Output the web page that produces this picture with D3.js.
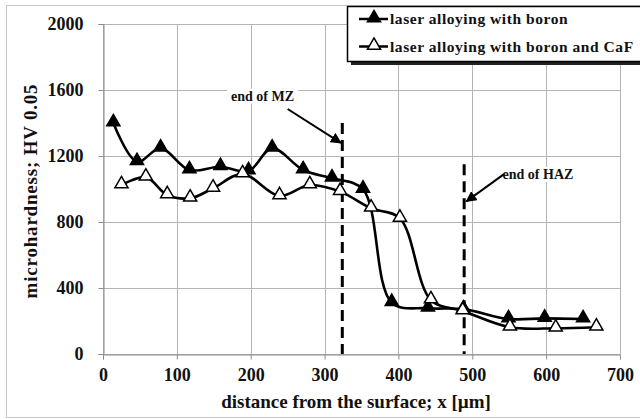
<!DOCTYPE html>
<html>
<head>
<meta charset="utf-8">
<script src="https://cdn.jsdelivr.net/npm/d3@7"></script>
<style>
  body { margin: 0; background: #fff; }
  svg text { font-family: "Liberation Serif", "Times New Roman", serif; font-weight: bold; fill: #111; }
</style>
</head>
<body>
<svg id="chart" width="640" height="419"></svg>
<script>
// values
const boronX = [14, 46, 78, 117, 159, 197, 229, 271, 310, 352, 391, 440, 488, 549, 598, 650];
const boronHV = [1400, 1165, 1247, 1115, 1135, 1109, 1247, 1115, 1065, 998, 311, 277, 272, 212, 216, 212];
const cafX = [25, 58, 87, 118, 149, 189, 239, 280, 321, 363, 402, 444, 487, 551, 613, 668];
const cafHV = [1024, 1071, 964, 944, 1004, 1091, 958, 1024, 984, 883, 822, 327, 261, 162, 156, 162];

const xTicks = [0, 100, 200, 300, 400, 500, 600, 700];
const yTicks = [0, 400, 800, 1200, 1600, 2000];

const seriesNames = ["laser alloying with boron", "laser alloying with boron and CaF"];

// zone boundaries (x in µm, top of dashed line in HV)
const zoneX = [324, 489];
const zoneTop = [1400, 1150];
const zoneLabels = ["end of MZ", "end of HAZ"];

const W = 640, H = 419;
const margin = {top: 24, right: 20, bottom: 65, left: 103};

const svg = d3.select("#chart");

// outer frame
svg.append("rect")
    .attr("x", 6.5).attr("y", 5.5)
    .attr("width", 640).attr("height", 412)
    .attr("fill", "#fff").attr("stroke", "#c8c8c8");

const x = d3.scaleLinear().domain([0, 700]).range([margin.left, W - margin.right]);
const y = d3.scaleLinear().domain([0, 2000]).range([H - margin.bottom, margin.top]);

// grid
const grid = svg.append("g").attr("stroke", "#b4b4b4").attr("stroke-width", 1);
grid.selectAll(".gx").data(xTicks).join("line")
    .attr("x1", d => Math.round(x(d)) + 0.5).attr("x2", d => Math.round(x(d)) + 0.5)
    .attr("y1", y(0)).attr("y2", y(2000));
grid.selectAll(".gy").data(yTicks).join("line")
    .attr("x1", x(0)).attr("x2", x(700))
    .attr("y1", d => Math.round(y(d)) + 0.5).attr("y2", d => Math.round(y(d)) + 0.5);

// axes
const xAxis = svg.append("g")
    .attr("transform", "translate(0," + (Math.round(y(0)) + 0.5) + ")")
    .call(d3.axisBottom(x).tickValues(xTicks).tickFormat(d3.format("d")).tickSize(5).tickPadding(9));
const yAxis = svg.append("g")
    .attr("transform", "translate(" + (Math.round(x(0)) + 0.5) + ",0)")
    .call(d3.axisLeft(y).tickValues(yTicks).tickFormat(d3.format("d")).tickSize(5).tickPadding(15));
[xAxis, yAxis].forEach(a => {
    a.select(".domain").attr("stroke", "#8c8c8c");
    a.selectAll(".tick line").attr("stroke", "#8c8c8c");
    a.selectAll("text").attr("font-size", 18).attr("fill", "#111");
});

svg.append("text")
    .attr("x", 356).attr("y", 408)
    .attr("text-anchor", "middle").attr("font-size", 19)
    .text("distance from the surface; x [µm]");
svg.append("text")
    .attr("transform", "translate(37," + 191 + ") rotate(-90)")
    .attr("text-anchor", "middle").attr("font-size", 19).attr("letter-spacing", 0.8)
    .text("microhardness; HV 0.05");

// zone annotations
svg.append("defs").append("marker")
    .attr("id", "arrow").attr("viewBox", "0 0 10 10")
    .attr("refX", 9).attr("refY", 5)
    .attr("markerWidth", 5.5).attr("markerHeight", 5.5)
    .attr("orient", "auto")
  .append("path").attr("d", "M0,0 L10,5 L0,10 Z").attr("fill", "#000");

svg.selectAll(".zone").data(zoneX).join("line")
    .attr("x1", d => x(d)).attr("x2", d => x(d))
    .attr("y1", (d, i) => y(zoneTop[i])).attr("y2", y(0))
    .attr("stroke", "#000").attr("stroke-width", 3).attr("stroke-dasharray", "11,6");

// label positions in data units: [text x, text y, arrow start x, y, arrow end x, y]
const zoneNotes = [
    [216, 1565, 250, 1485, 322, 1280],
    [541, 1090, 543, 1090, 492, 925]
];
zoneNotes.forEach((n, i) => {
    const g = svg.append("g");
    const bg = g.append("rect").attr("fill", "#fff");
    const t = g.append("text")
        .attr("x", x(n[0])).attr("y", y(n[1]))
        .attr("text-anchor", i === 0 ? "middle" : "start")
        .attr("dy", "0.35em").attr("font-size", 14)
        .text(zoneLabels[i]);
    const b = t.node().getBBox();
    bg.attr("x", b.x - 4).attr("y", b.y).attr("width", b.width + 8).attr("height", b.height);
    g.append("line")
        .attr("x1", x(n[2])).attr("y1", y(n[3]))
        .attr("x2", x(n[4])).attr("y2", y(n[5]))
        .attr("stroke", "#000").attr("stroke-width", 2)
        .attr("marker-end", "url(#arrow)");
});

// series
const line = d3.line().curve(d3.curveCatmullRom.alpha(0.5))
    .x(d => x(d[0])).y(d => y(d[1]));
const tri = d3.symbol().type(d3.symbolTriangle).size(75);

function drawSeries(xs, vs, fill) {
    const pts = xs.map((d, i) => [d, vs[i]]);
    svg.append("path").datum(pts)
        .attr("d", line).attr("fill", "none")
        .attr("stroke", "#000").attr("stroke-width", 2.6);
    svg.append("g").selectAll("path").data(pts).join("path")
        .attr("transform", d => "translate(" + x(d[0]) + "," + (y(d[1]) - 1) + ")")
        .attr("d", tri)
        .attr("fill", fill).attr("stroke", "#000").attr("stroke-width", 1.5);
}
drawSeries(boronX, boronHV, "#000");
drawSeries(cafX, cafHV, "#fff");

// legend
const lg = svg.append("g").attr("transform", "translate(347,6)");
lg.append("rect").attr("x", 4).attr("y", 4).attr("width", 300).attr("height", 55).attr("fill", "#222");
lg.append("rect").attr("x", 0.5).attr("y", 0.5).attr("width", 300).attr("height", 55)
    .attr("fill", "#fff").attr("stroke", "#000").attr("stroke-width", 1.5);
seriesNames.forEach((name, i) => {
    const cy = 13 + i * 27.5;
    lg.append("line").attr("x1", 12).attr("x2", 41).attr("y1", cy).attr("y2", cy)
        .attr("stroke", "#000").attr("stroke-width", 2.5);
    lg.append("path").attr("transform", "translate(27," + (cy - 1) + ")")
        .attr("d", tri).attr("fill", i === 0 ? "#000" : "#fff")
        .attr("stroke", "#000").attr("stroke-width", 1.5);
    lg.append("text").attr("x", 43).attr("y", cy).attr("dy", "0.35em")
        .attr("font-size", 15.5).attr("letter-spacing", 0.55).text(name);
});
</script>
</body>
</html>
